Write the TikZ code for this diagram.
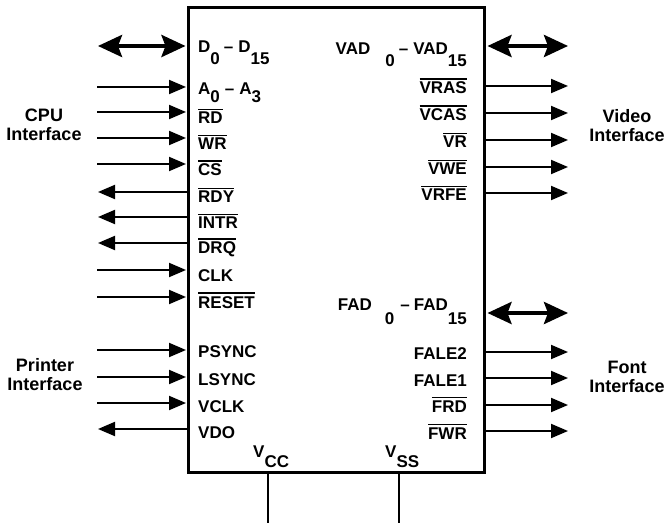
\documentclass[tikz,border=0pt]{standalone}
\usepackage{fontspec}
\setmainfont{Liberation Sans}
\usetikzlibrary{arrows.meta}
\newcommand\ovl[1]{\vbox{\hrule height 1.5pt\kern 2.2pt\hbox{#1}}}
\newcommand\lsub[2]{\raisebox{-#1pt}{#2}}
\begin{document}
\begin{tikzpicture}[x=1pt,y=-1pt,
  lbl/.style={font=\bfseries\fontsize{17}{19}\selectfont, inner sep=0pt},
  lpin/.style={lbl, anchor=base west},
  rpin/.style={lbl, anchor=base east},
  grp/.style={font=\bfseries\fontsize{18}{19}\selectfont, align=center, inner sep=0pt},
  sig/.style={line width=2pt, -{Triangle[length=17pt,width=14pt]}, shorten >=1pt},
  bus/.style={line width=4pt, {Stealth[length=24pt,width=22pt,inset=4pt]}-{Stealth[length=24pt,width=22pt,inset=4pt]}},
  pwr/.style={line width=2.5pt}
]
\useasboundingbox (0,0) rectangle (668,526);
\node[draw, line width=3pt, minimum width=296pt, minimum height=465pt, anchor=north west, inner sep=0pt] (chip) at (187,6) {};

% group labels
\node[grp] (cpu) at (44,125) {CPU\\Interface};
\node[grp] (video) at (627,125.5) {Video\\Interface};
\node[grp] (printer) at (45,375) {Printer\\Interface};
\node[grp] (font) at (627,376.5) {Font\\Interface};

% left pins
\node[lpin] (d) at (198,53) {D\lsub{12}{0}\kern4pt–\kern5ptD\lsub{12}{15}};
\node[lpin] (a) at (198,95) {A\lsub{8}{0}\kern5pt–\kern5ptA\lsub{8}{3}};
\node[lpin] (rd) at (198,124) {\ovl{RD}};
\node[lpin] (wr) at (198,150) {\ovl{WR}};
\node[lpin] (cs) at (198,176) {\ovl{CS}};
\node[lpin] (rdy) at (198,203) {\ovl{RDY}};
\node[lpin] (intr) at (198,229) {\ovl{INTR}};
\node[lpin] (drq) at (198,254) {\ovl{DRQ}};
\node[lpin] (clk) at (198,281) {CLK};
\node[lpin] (reset) at (198,308) {\ovl{RESET}};
\node[lpin] (psync) at (198,357) {PSYNC};
\node[lpin] (lsync) at (198,385) {LSYNC};
\node[lpin] (vclk) at (198,412) {VCLK};
\node[lpin] (vdo) at (198,438) {VDO};

\coordinate (dL) at (98,46);
\coordinate (aL) at (97,87);
\coordinate (rdL) at (97,112);
\coordinate (wrL) at (97,138);
\coordinate (csL) at (97,164);
\coordinate (rdyL) at (98,192);
\coordinate (intrL) at (98,217);
\coordinate (drqL) at (98,243);
\coordinate (clkL) at (97,270);
\coordinate (resetL) at (97,297);
\coordinate (psyncL) at (97,350);
\coordinate (lsyncL) at (97,377);
\coordinate (vclkL) at (97,403);
\coordinate (vdoL) at (98,429);

\draw[bus, shorten >=1.5pt] (dL) -- (dL -| chip.west);
\foreach \p in {aL,rdL,wrL,csL,clkL,resetL,psyncL,lsyncL,vclkL}
  \draw[sig] (\p) -- (\p -| chip.west);
\foreach \p in {rdyL,intrL,drqL,vdoL}
  \draw[sig, shorten >=0pt] (\p -| chip.west) -- (\p);

% right pins
\node[rpin] (vad) at (467,55) {VAD\kern15pt\lsub{12}{0}\kern4pt–\kern5ptVAD\lsub{12}{15}};
\node[rpin] (vras) at (467,94) {\ovl{VRAS}};
\node[rpin] (vcas) at (467,121) {\ovl{VCAS}};
\node[rpin] (vr) at (467,148) {\ovl{VR}};
\node[rpin] (vwe) at (467,175) {\ovl{VWE}};
\node[rpin] (vrfe) at (467,201) {\ovl{VRFE}};
\node[rpin] (fad) at (467,310) {FAD\kern13pt\lsub{14}{0}\kern6pt–\kern4ptFAD\lsub{14}{15}};
\node[rpin] (fale2) at (467,359) {FALE2};
\node[rpin] (fale1) at (467,386) {FALE1};
\node[rpin] (frd) at (467,412) {\ovl{FRD}};
\node[rpin] (fwr) at (467,439) {\ovl{FWR}};

\coordinate (vadR) at (568,46);
\coordinate (vrasR) at (568,86);
\coordinate (vcasR) at (568,113);
\coordinate (vrR) at (568,140);
\coordinate (vweR) at (568,167);
\coordinate (vrfeR) at (568,193);
\coordinate (fadR) at (568,313);
\coordinate (fale2R) at (568,352);
\coordinate (fale1R) at (568,378);
\coordinate (frdR) at (568,405);
\coordinate (fwrR) at (568,431);

\draw[bus, shorten <=1.5pt] (vadR -| chip.east) -- (vadR);
\draw[bus, shorten <=1.5pt] (fadR -| chip.east) -- (fadR);
\foreach \p in {vrasR,vcasR,vrR,vweR,vrfeR,fale2R,fale1R,frdR,fwrR}
  \draw[sig, shorten >=0pt] (\p -| chip.east) -- (\p);

% power pins
\coordinate (vccB) at (268,523);
\coordinate (vssB) at (399,523);
\draw[pwr] (vccB |- chip.south) -- (vccB);
\draw[pwr] (vssB |- chip.south) -- (vssB);
\node[lbl, anchor=base west] (vcc) at (253,457) {V\raisebox{-10pt}{CC}};
\node[lbl, anchor=base west] (vss) at (385,457) {V\raisebox{-10pt}{SS}};
\end{tikzpicture}
\end{document}
